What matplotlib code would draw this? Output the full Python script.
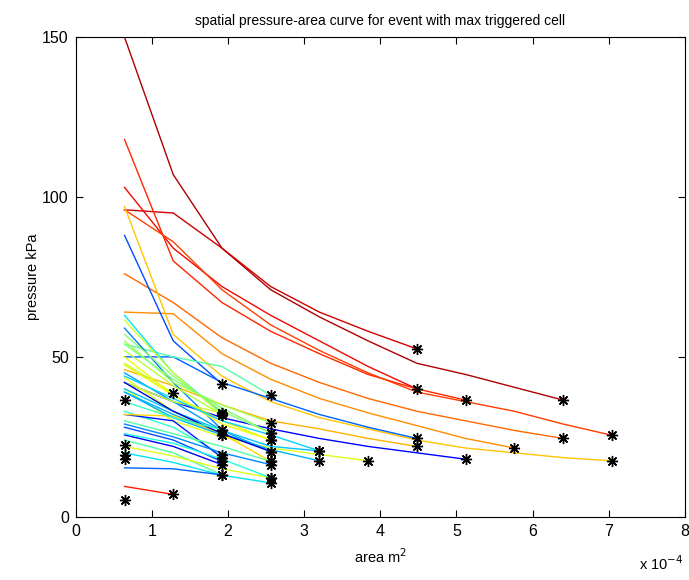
import matplotlib
matplotlib.use("Agg")
import matplotlib.pyplot as plt
import numpy as np

# area of one sensor cell (m^2); curve k-th point = k cells
cell_area = 0.64e-4

# pressure (kPa) of each spatial pressure-area curve, point k = k cells
curves = [
    [150, 107, 84, 71, 62.5, 55, 48, 44.5, 40.5, 36.5],
    [96, 95, 84, 72, 64, 58, 52.5],
    [103, 84, 72, 63, 55, 47, 40],
    [118, 80, 67, 58, 51, 44.5, 40, 36.5],
    [96, 86, 71, 60, 52, 45, 39, 36, 33, 29, 25.5],
    [76, 67, 56, 48, 42, 37, 33, 30, 27, 24.5],
    [64, 63.5, 51, 43, 37, 32.5, 28.5, 24.5, 21.5],
    [97, 57, 44, 36, 31, 27.5, 24, 21.5, 20, 18.5, 17.5],
    [88, 55, 41.5],
    [50, 50, 42, 37, 32, 28, 24.5],
    [42, 36, 31, 27.5, 24.5, 22, 20, 18],
    [46, 41, 35, 30, 27.5, 24.5, 22],
    [40, 30, 25, 21.5, 19.5, 17.5],
    [54, 50, 47, 38],
    [63, 45, 32.5],
    [61.5, 45, 31.9],
    [59, 42, 27.2],
    [55, 42, 35, 29.4],
    [54, 43, 34, 26.2],
    [47.5, 38, 30, 24],
    [45, 36, 27, 20.4],
    [43.5, 33, 25.6],
    [40, 33, 27, 22, 20.6],
    [39, 32, 26, 21, 17.5],
    [48, 38.7],
    [33, 28, 19.4],
    [32, 30, 18.5],
    [32, 31.5, 26, 17.3],
    [28, 24, 17.3],
    [25.6, 22, 16.3],
    [24, 20, 13.1],
    [22, 19, 15, 12.2],
    [20, 17, 13, 10.6],
    [15.3, 15, 13.1],
    [9.5, 7],
    [42, 36, 32.5],
    [42, 33, 26, 20.4],
    [39, 31, 25.6],
    [30, 26, 22, 17.3],
    [26, 23, 18, 12.2],
    [57, 44, 33, 26.2],
    [52, 41, 31.9],
    [50, 38, 29, 24],
    [44, 37, 30, 25.6, 20.6],
    [36, 31, 27.2],
    [29, 25, 20, 16.3],
    [36.5],
    [22.5],
    [19.4],
    [18],
    [5.3],
]

# position of each curve on the jet colour map
levels = [
    0.96, 0.93, 0.9, 0.87, 0.84, 0.8, 0.76, 0.7, 0.2, 0.22, 0.12, 0.72, 0.62, 0.45,
    0.35, 0.6, 0.25, 0.55, 0.5, 0.65, 0.28, 0.62, 0.32, 0.3, 0.58, 0.4, 0.15,
    0.68, 0.2, 0.1, 0.45, 0.62, 0.35, 0.22, 0.88, 0.6, 0.08, 0.3, 0.45, 0.38,
    0.52, 0.57, 0.64, 0.33, 0.42, 0.26,
    0.5, 0.3, 0.3, 0.2, 0.9,
]

plt.rcParams['font.family'] = ['Liberation Sans', 'DejaVu Sans']

fig = plt.figure(figsize=(6.89, 5.8), dpi=100)
ax = fig.add_axes([0.110, 0.109, 0.884, 0.827])
cmap = plt.get_cmap('jet')

for p, c in zip(curves, levels):
    area = cell_area * np.arange(1, len(p) + 1) / 1e-4
    ax.plot(area, p, color=cmap(c), lw=1.0)
for p in curves:
    area = cell_area * len(p) / 1e-4
    ax.plot(area, p[-1], linestyle='none', marker=(8, 2, 0), color='black',
            markersize=8, markeredgewidth=1.0)
    ax.plot(area, p[-1], linestyle='none', marker='o', color='black', markersize=3)

ax.set_xlim(0, 8)
ax.set_ylim(0, 150)
ax.set_xticks(range(0, 9))
ax.set_yticks([0, 50, 100, 150])
ax.tick_params(direction='in', top=True, right=True, length=5, labelsize=11.5, pad=5)
for s in ax.spines.values():
    s.set_linewidth(0.8)

ax.set_title('spatial pressure-area curve for event with max triggered cell', fontsize=10, pad=9)
ax.set_xlabel('area m$^2$', fontsize=10.5, labelpad=6)
ax.set_ylabel('pressure kPa', fontsize=10.5)
ax.yaxis.set_label_coords(-0.058, 0.5)
fig.text(0.928, 0.017, 'x 10$^{-4}$', fontsize=10.5)

fig.savefig('out.png', dpi=100)
